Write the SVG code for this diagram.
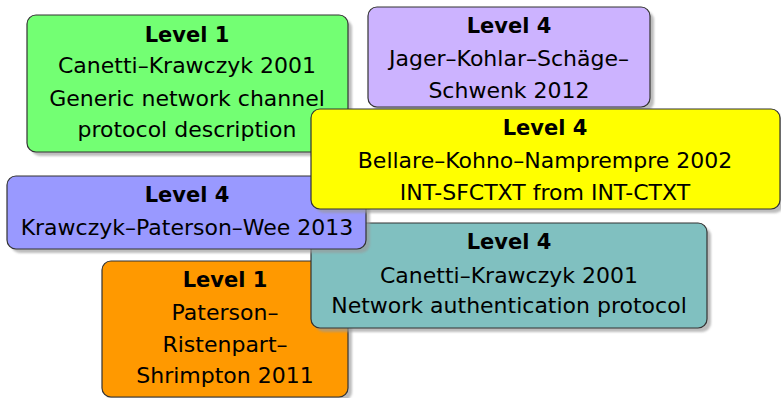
<svg xmlns="http://www.w3.org/2000/svg" width="781" height="398" viewBox="0 0 781 398">
  <defs>
    <filter id="soft" x="-5%" y="-5%" width="110%" height="110%">
      <feGaussianBlur stdDeviation="0.8"/>
    </filter>
  </defs>
  <style>
    .box { stroke: #333333; stroke-width: 1.2; }
    .shadow { fill: #9a9a9a; opacity: 0.65; filter: url(#soft); }
    text { font-family: "DejaVu Sans", "Liberation Sans", sans-serif; font-size: 22px; fill: #000000; text-anchor: middle; }
    .title { font-weight: bold; font-size: 21px; }
  </style>
  <rect width="781" height="398" fill="#ffffff"/>

  <!-- nodes, painted back to front -->
  <g id="node-ck2001-generic">
    <rect class="shadow" x="31" y="19" width="321" height="137" rx="9"/>
    <rect class="box" x="27" y="15" width="321" height="137" rx="9" fill="#73ff73"/>
    <text class="title" x="187" y="42">Level 1</text>
    <text x="187" y="73">Canetti–Krawczyk 2001</text>
    <text x="187" y="106">Generic network channel</text>
    <text x="187" y="137">protocol description</text>
  </g>

  <g id="node-jkss2012">
    <rect class="shadow" x="372" y="11" width="282" height="100" rx="9"/>
    <rect class="box" x="368" y="7" width="282" height="100" rx="9" fill="#ccb3ff"/>
    <text class="title" x="509" y="33">Level 4</text>
    <text x="509" y="66">Jager–Kohlar–Schäge–</text>
    <text x="509" y="98">Schwenk 2012</text>
  </g>

  <g id="node-prs2011">
    <rect class="shadow" x="106" y="265" width="246" height="136" rx="9"/>
    <rect class="box" x="102" y="261" width="246" height="136" rx="9" fill="#ff9900"/>
    <text class="title" x="225" y="287">Level 1</text>
    <text x="225" y="320">Paterson–</text>
    <text x="225" y="352">Ristenpart–</text>
    <text x="225" y="383">Shrimpton 2011</text>
  </g>

  <g id="node-ck2001-auth">
    <rect class="shadow" x="315" y="227" width="396" height="105" rx="9"/>
    <rect class="box" x="311" y="223" width="396" height="105" rx="9" fill="#80c0c0"/>
    <text class="title" x="509" y="249">Level 4</text>
    <text x="509" y="283">Canetti–Krawczyk 2001</text>
    <text x="509" y="313">Network authentication protocol</text>
  </g>

  <g id="node-kpw2013">
    <rect class="shadow" x="11" y="180" width="359" height="73" rx="9"/>
    <rect class="box" x="7" y="176" width="359" height="73" rx="9" fill="#9999ff"/>
    <text class="title" x="187" y="202">Level 4</text>
    <text x="187" y="235">Krawczyk–Paterson–Wee 2013</text>
  </g>

  <g id="node-bkn2002">
    <rect class="shadow" x="315" y="113" width="469" height="100" rx="9"/>
    <rect class="box" x="311" y="109" width="469" height="100" rx="9" fill="#ffff00"/>
    <text class="title" x="545" y="135">Level 4</text>
    <text x="545" y="168">Bellare–Kohno–Namprempre 2002</text>
    <text x="545" y="200">INT-SFCTXT from INT-CTXT</text>
  </g>

  <g id="connectors"></g>
</svg>
